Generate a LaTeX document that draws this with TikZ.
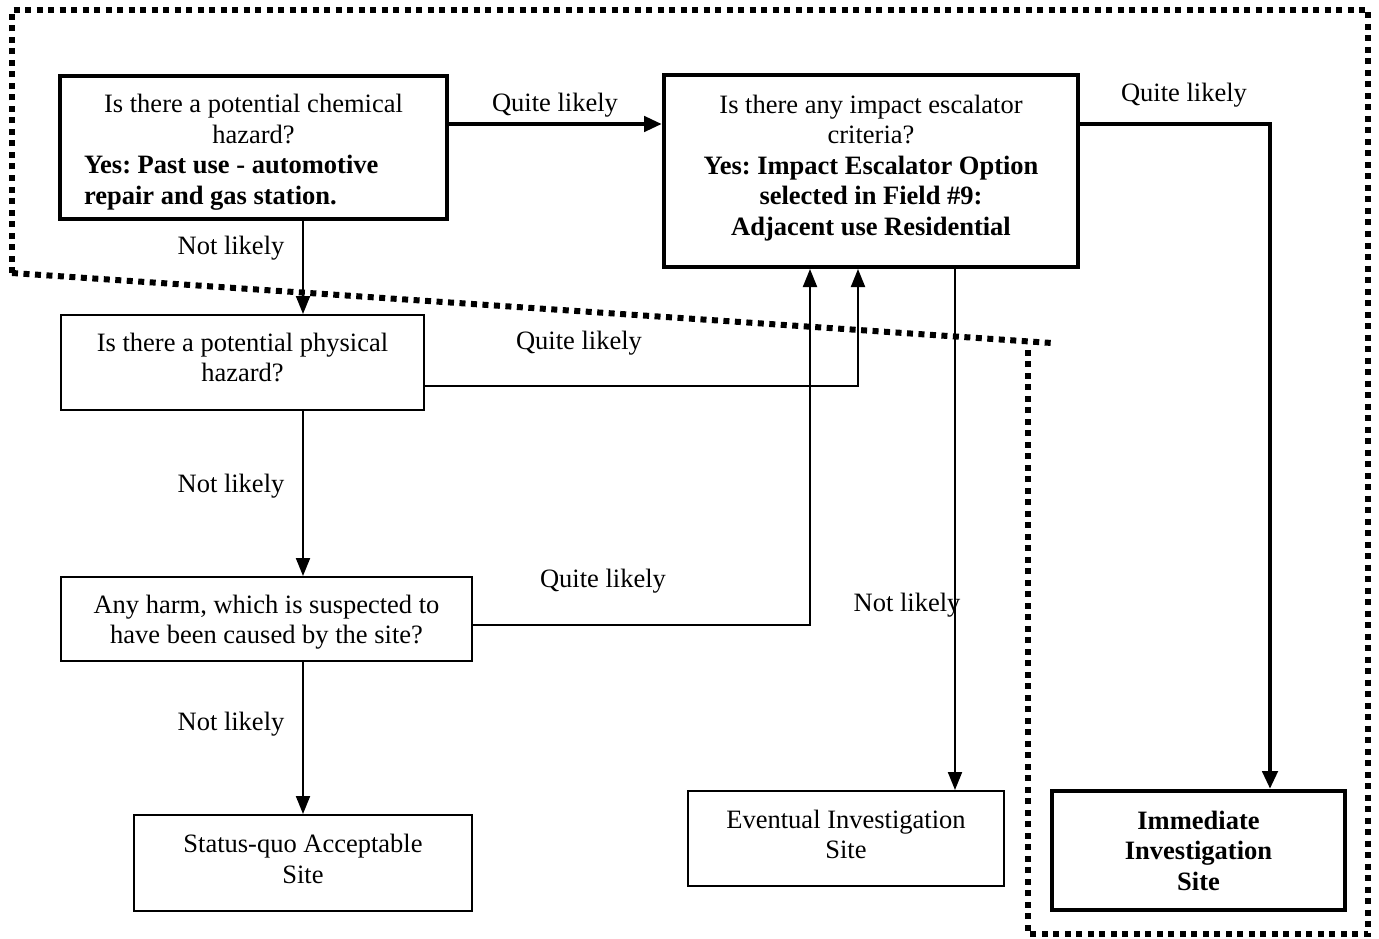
\documentclass[tikz,border=0pt]{standalone}
\usepackage{fontspec}
\setmainfont{Liberation Serif}
\usetikzlibrary{arrows.meta,calc}
\frenchspacing

\begin{document}
\begin{tikzpicture}[x=1pt,y=-1pt,
  txt/.style={font=\fontsize{26.5}{30.5}\selectfont},
  thinbox/.style={txt,draw,line width=2pt,inner sep=0pt,align=center},
  thickbox/.style={txt,draw,line width=4pt,inner sep=0pt,align=center},
  flow/.style={line width=2pt,-{Triangle[length=18pt,width=14pt]}},
  boldflow/.style={line width=4.5pt,-{Triangle[length=18pt,width=15pt]}},
  lbl/.style={txt,inner sep=0pt},
  boundary/.style={line width=6pt,dash pattern=on 6pt off 5.5pt}]

\useasboundingbox (0,0) rectangle (1379,939);

% question boxes
\node[thickbox,minimum width=387pt,minimum height=143pt] (chem) at (253.5,147.5) {};
\node[txt,inner sep=0pt,align=left] (chemtext) at (253.5,152)
  {\makebox[339pt][c]{Is there a potential chemical}\\
   \makebox[339pt][c]{hazard?}\\
   \textbf{Yes: Past use - automotive}\\
   \textbf{repair and gas station.}};
\node[thickbox,minimum width=414pt,minimum height=192pt] (esc) at (871,171) {};
\node[txt,align=center,inner sep=0pt] (esctext) at (871,168)
  {Is there any impact escalator\\ criteria?\\
   \textbf{Yes: Impact Escalator Option}\\
   \textbf{selected in Field \#9:}\\
   \textbf{Adjacent use Residential}};
\node[thinbox,minimum width=363pt,minimum height=95pt] (phys) at (242.5,362.5) {};
\node[txt,align=center,inner sep=0pt] (physt) at (242.5,357.5) {Is there a potential physical\\ hazard?};
\node[thinbox,minimum width=411pt,minimum height=84pt] (harm) at (266.5,619) {};
\node[txt,align=center,inner sep=0pt] (harmt) at (266.5,622)
  {Any harm, which is suspected to\\ have been caused by the site?};

% outcome boxes
\node[thinbox,minimum width=338pt,minimum height=96pt] (quo) at (303,863) {};
\node[txt,align=center,inner sep=0pt] (quot) at (303,859) {Status-quo Acceptable\\ Site};
\node[thinbox,minimum width=316pt,minimum height=95pt] (eve) at (846,838.5) {};
\node[txt,align=center,inner sep=0pt] (evet) at (846,834.5) {Eventual Investigation\\ Site};
\node[thickbox,minimum width=293pt,minimum height=119pt,font=\fontsize{26.5}{30.5}\selectfont\bfseries] (imm) at (1198.5,850.5)
  {Immediate\\ Investigation\\ Site};

% connectors
\draw[boldflow] (chem.east |- 0,124) -- (esc.west |- 0,124);
\draw[boldflow] (esc.east |- 0,124) -| (imm.north -| 1270,0);
\draw[flow] (chem.south -| 303,0) -- (phys.north -| 303,0);
\draw[flow] (phys.south -| 303,0) -- (harm.north -| 303,0);
\draw[flow] (harm.south -| 303,0) -- (quo.north -| 303,0);
\draw[flow] (phys.east |- 0,386) -| (esc.south -| 858,0);
\draw[flow] (harm.east |- 0,625) -| (esc.south -| 810,0);
\draw[flow] (esc.south -| 955,0) -- (eve.north -| 955,0);

% connector labels
\node[lbl] (l1) at (555,105.5) {Quite likely};
\node[lbl] (l2) at (1184,95.5) {Quite likely};
\node[lbl] (l3) at (579,343.5) {Quite likely};
\node[lbl] (l4) at (603,581.5) {Quite likely};
\node[lbl] (l5) at (231,248) {Not likely};
\node[lbl] (l6) at (231,486) {Not likely};
\node[lbl] (l7) at (231,724) {Not likely};
\node[lbl] (l8) at (907,605) {Not likely};

% dotted site boundary
\draw[boundary] (12,273) -- (12,10) -- (1368,10) -- (1368,934) -- (1028,934) -- (1028,345);
\draw[boundary] (12,273) -- (1052,343);
\end{tikzpicture}
\end{document}
